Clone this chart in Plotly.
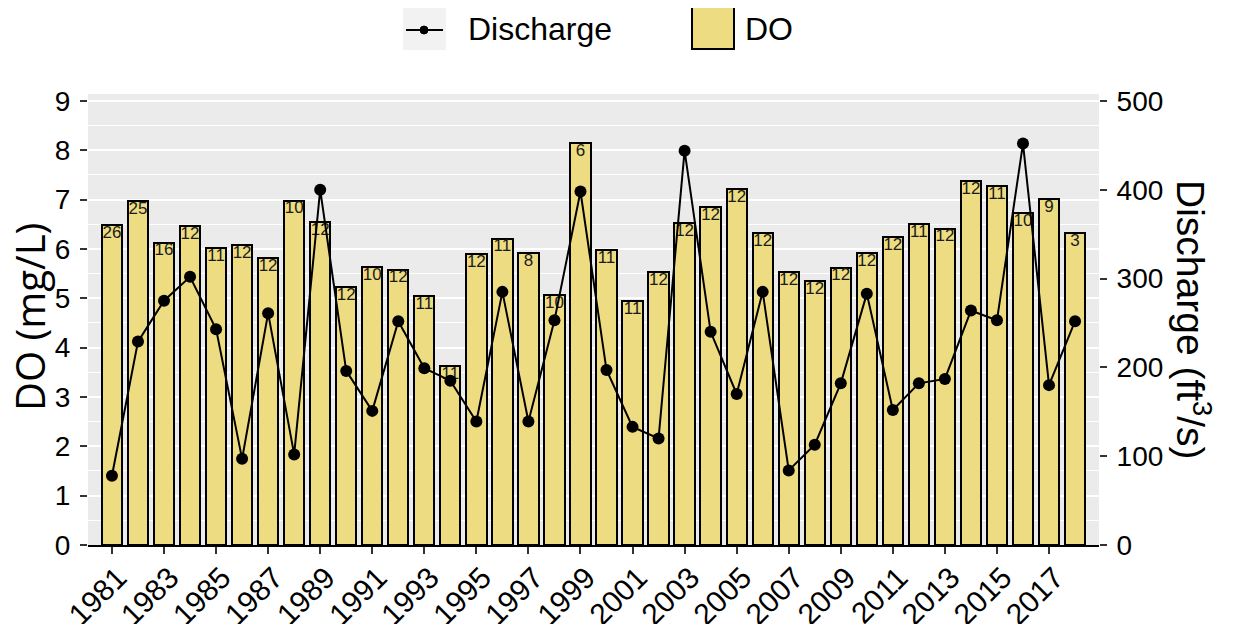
import plotly.graph_objects as go

years = list(range(1981, 2019))
do_vals = [6.49, 6.97, 6.13, 6.46, 6.01, 6.07, 5.81, 6.98, 6.54, 5.22,
           5.63, 5.58, 5.05, 3.62, 5.90, 6.21, 5.92, 5.07, 8.14, 5.98,
           4.95, 5.53, 6.52, 6.84, 7.21, 6.32, 5.53, 5.35, 5.62, 5.92,
           6.24, 6.51, 6.41, 7.38, 7.28, 6.73, 7.01, 6.32]
counts = [26, 25, 16, 12, 11, 12, 12, 10, 12, 12,
          10, 12, 11, 11, 12, 11, 8, 10, 6, 11,
          11, 12, 12, 12, 12, 12, 12, 12, 12, 12,
          12, 11, 12, 12, 11, 10, 9, 3]
discharge = [78, 229, 275, 302, 243, 97, 261, 102, 400, 196,
             151, 252, 199, 185, 139, 285, 139, 253, 398, 197,
             133, 120, 444, 240, 170, 285, 84, 113, 182, 283,
             152, 182, 187, 264, 253, 452, 180, 252]
x_ticks = list(range(1981, 2019, 2))
y_ticks = list(range(0, 10))
y2_ticks = [0, 100, 200, 300, 400, 500]

FILL = "#EEDC82"
FONT = "Liberation Sans, Arial, sans-serif"

# the page body adds an 8px margin, so the figure is drawn 8px smaller and
# all reference-pixel positions are shifted by that offset
OFF = 8
VW, VH = 1233, 624
W, H = VW - OFF, VH - OFF
L, R, T, B = 88 - OFF, VW - 1099, 94 - OFF, VH - 545
PW, PH = W - L - R, H - T - B

def px(x):
    return (x - OFF - L) / PW

def py(y):
    return (H - B - (y - OFF)) / PH

Y1MAX = 9.14
Y2MAX = Y1MAX * 500 / 9

fig = go.Figure()
fig.add_trace(go.Bar(
    x=years, y=do_vals, width=0.78,
    marker=dict(color=FILL, line=dict(color="black", width=2)),
    showlegend=False, name="DO"))
fig.add_trace(go.Scatter(
    x=years, y=do_vals, mode="text", text=[str(c) for c in counts],
    textposition="bottom center",
    textfont=dict(family=FONT, size=17, color="#1a1a1a"),
    showlegend=False, hoverinfo="skip"))
fig.add_trace(go.Scatter(
    x=years, y=discharge, yaxis="y2", mode="lines+markers",
    line=dict(color="black", width=2),
    marker=dict(color="black", size=12),
    showlegend=False, name="Discharge"))

shapes = []
shapes.append(dict(type="rect", xref="paper", yref="paper",
                   x0=px(403), x1=px(446), y0=py(50), y1=py(7),
                   fillcolor="#F2F2F2", line=dict(width=0)))
shapes.append(dict(type="line", xref="paper", yref="paper",
                   x0=px(406), x1=px(443), y0=py(30), y1=py(30),
                   line=dict(color="black", width=2)))
shapes.append(dict(type="circle", xref="paper", yref="paper",
                   x0=px(420), x1=px(428), y0=py(34), y1=py(26),
                   fillcolor="black", line=dict(color="black", width=1)))
shapes.append(dict(type="rect", xref="paper", yref="paper",
                   x0=px(692), x1=px(734), y0=py(49), y1=py(7),
                   fillcolor=FILL, line=dict(color="black", width=2)))

annotations = [
    dict(text="Discharge", xref="paper", yref="paper", x=px(466), y=py(29),
         xanchor="left", yanchor="middle", showarrow=False,
         font=dict(family=FONT, size=32, color="black")),
    dict(text="DO", xref="paper", yref="paper", x=px(743), y=py(29),
         xanchor="left", yanchor="middle", showarrow=False,
         font=dict(family=FONT, size=32, color="black")),
    dict(text="DO (mg/L)", xref="paper", yref="paper", x=px(29), y=py(317),
         xanchor="center", yanchor="middle", textangle=-90, showarrow=False,
         font=dict(family="Open Sans, sans-serif", size=40, color="black")),
    dict(text="Discharge (ft<sup>3</sup>/s)", xref="paper", yref="paper",
         x=px(1194), y=py(320), xanchor="center", yanchor="middle",
         textangle=90, showarrow=False,
         font=dict(family=FONT, size=39, color="black")),
]

fig.update_layout(
    width=W, height=H,
    margin=dict(l=L, r=R, t=T, b=B, autoexpand=False),
    paper_bgcolor="white", plot_bgcolor="#EBEBEB",
    bargap=0, showlegend=False,
    shapes=shapes, annotations=annotations,
    xaxis=dict(range=[1980.08, 2018.92], tickmode="array", tickvals=x_ticks,
               ticktext=[str(t) for t in x_ticks], tickangle=-45,
               showgrid=False, zeroline=False, showline=True,
               linecolor="black", linewidth=2,
               ticks="outside", ticklen=7, tickwidth=2, tickcolor="#333333",
               ticklabelshift=6, ticklabelstandoff=-6,
               tickfont=dict(family=FONT, size=30, color="black"),
               automargin=False),
    yaxis=dict(range=[0, Y1MAX], tickmode="array", tickvals=y_ticks,
               showgrid=True, gridcolor="white", gridwidth=2,
               minor=dict(dtick=0.5, tick0=0, showgrid=True,
                          gridcolor="white", gridwidth=1, ticks=""),
               zeroline=False, showline=False,
               ticks="outside", ticklen=7, tickwidth=2, tickcolor="#333333",
               ticklabelstandoff=4,
               tickfont=dict(family=FONT, size=28, color="black"),
               automargin=False),
    yaxis2=dict(range=[0, Y2MAX], overlaying="y", side="right",
                tickmode="array", tickvals=y2_ticks,
                showgrid=False, zeroline=False, showline=False,
                ticks="outside", ticklen=7, tickwidth=2, tickcolor="#333333",
                ticklabelstandoff=4,
                tickfont=dict(family=FONT, size=28, color="black"),
                automargin=False),
)

fig.write_html("out.html")
